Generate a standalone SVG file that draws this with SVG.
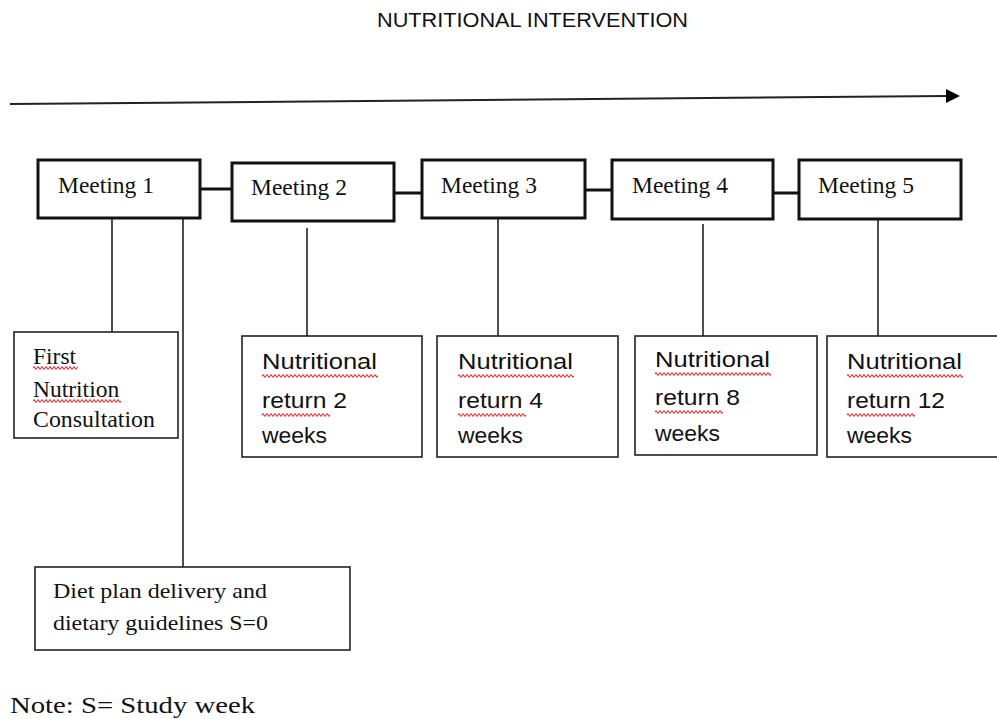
<svg xmlns="http://www.w3.org/2000/svg" width="997" height="719" viewBox="0 0 997 719">
<defs>
<style>
.bg{fill:#fff}
.mt{fill:#fff;stroke:#111;stroke-width:3}
.sb{fill:#fff;stroke:#222;stroke-width:1.6}
.hc{stroke:#111;stroke-width:3;fill:none}
.vc{stroke:#222;stroke-width:1.6;fill:none}
.serif{font-family:"Liberation Serif","Times New Roman",serif;fill:#111}
.sans{font-family:"Liberation Sans",Arial,sans-serif;fill:#111}
.ms{font-size:23.5px}
.ns{font-size:21.5px}
</style>
<pattern id="sq" patternUnits="userSpaceOnUse" width="4" height="4">
<path d="M0 2 L1 0.8 L3 3.2 L4 2" stroke="#e8434a" stroke-width="1.2" fill="none"/>
</pattern>
</defs>
<rect class="bg" x="0" y="0" width="997" height="719"/>

<text id="title" class="sans" x="377" y="27" font-size="19.5" textLength="311" lengthAdjust="spacingAndGlyphs" fill="#2a2a2a">NUTRITIONAL INTERVENTION</text>

<g id="timeline">
<line x1="10" y1="104" x2="947" y2="96" stroke="#222" stroke-width="2"/>
<polygon points="946,89 960,96 946,103" fill="#000"/>
</g>

<g id="connectors">
<line class="hc" x1="200" y1="189" x2="232" y2="189"/>
<line class="hc" x1="394" y1="193" x2="422" y2="193"/>
<line class="hc" x1="585" y1="190" x2="612" y2="190"/>
<line class="hc" x1="773" y1="193" x2="799" y2="193"/>
<line class="vc" x1="112" y1="219" x2="112" y2="332"/>
<line class="vc" x1="183" y1="219" x2="183" y2="567"/>
<line class="vc" x1="307" y1="228" x2="307" y2="336"/>
<line class="vc" x1="498" y1="219" x2="498" y2="336"/>
<line class="vc" x1="703" y1="224" x2="703" y2="336"/>
<line class="vc" x1="878" y1="219" x2="878" y2="336"/>
</g>

<g id="meeting1">
<rect class="mt" x="38" y="160" width="162" height="58"/>
<text class="serif ms" x="58" y="193">Meeting 1</text>
</g>
<g id="meeting2">
<rect class="mt" x="232" y="163" width="162" height="58"/>
<text class="serif ms" x="251" y="195">Meeting 2</text>
</g>
<g id="meeting3">
<rect class="mt" x="422" y="160" width="163" height="58"/>
<text class="serif ms" x="441" y="193">Meeting 3</text>
</g>
<g id="meeting4">
<rect class="mt" x="612" y="160" width="161" height="59"/>
<text class="serif ms" x="632" y="193">Meeting 4</text>
</g>
<g id="meeting5">
<rect class="mt" x="799" y="160" width="162" height="59"/>
<text class="serif ms" x="818" y="193">Meeting 5</text>
</g>

<g id="first-consultation">
<rect class="sb" x="14" y="332" width="164" height="106"/>
<text class="serif ms" x="33" y="364">First</text>
<text class="serif ms" x="33" y="397">Nutrition</text>
<text class="serif ms" x="33" y="427" textLength="122" lengthAdjust="spacingAndGlyphs">Consultation</text>
<rect transform="translate(33,366)" width="45" height="4" fill="url(#sq)"/>
<rect transform="translate(33,399)" width="88" height="4" fill="url(#sq)"/>
</g>

<g id="return2">
<rect class="sb" x="242" y="336" width="180" height="121"/>
<text class="sans ns" x="262" y="369" textLength="115" lengthAdjust="spacingAndGlyphs">Nutritional</text>
<text class="sans ns" x="262" y="408" textLength="85" lengthAdjust="spacingAndGlyphs">return 2</text>
<text class="sans ns" x="262" y="443" textLength="65" lengthAdjust="spacingAndGlyphs">weeks</text>
<rect transform="translate(262,374)" width="116" height="4" fill="url(#sq)"/>
<rect transform="translate(262,413)" width="68" height="4" fill="url(#sq)"/>
</g>

<g id="return4">
<rect class="sb" x="437" y="336" width="181" height="121"/>
<text class="sans ns" x="458" y="369" textLength="115" lengthAdjust="spacingAndGlyphs">Nutritional</text>
<text class="sans ns" x="458" y="408" textLength="85" lengthAdjust="spacingAndGlyphs">return 4</text>
<text class="sans ns" x="458" y="443" textLength="65" lengthAdjust="spacingAndGlyphs">weeks</text>
<rect transform="translate(458,374)" width="116" height="4" fill="url(#sq)"/>
<rect transform="translate(458,413)" width="68" height="4" fill="url(#sq)"/>
</g>

<g id="return8">
<rect class="sb" x="635" y="336" width="182" height="119"/>
<text class="sans ns" x="655" y="367" textLength="115" lengthAdjust="spacingAndGlyphs">Nutritional</text>
<text class="sans ns" x="655" y="405" textLength="85" lengthAdjust="spacingAndGlyphs">return 8</text>
<text class="sans ns" x="655" y="441" textLength="65" lengthAdjust="spacingAndGlyphs">weeks</text>
<rect transform="translate(655,372)" width="116" height="4" fill="url(#sq)"/>
<rect transform="translate(655,410)" width="68" height="4" fill="url(#sq)"/>
</g>

<g id="return12">
<rect class="sb" x="827" y="336" width="175" height="121"/>
<text class="sans ns" x="847" y="369" textLength="115" lengthAdjust="spacingAndGlyphs">Nutritional</text>
<text class="sans ns" x="847" y="408" textLength="98" lengthAdjust="spacingAndGlyphs">return 12</text>
<text class="sans ns" x="847" y="443" textLength="65" lengthAdjust="spacingAndGlyphs">weeks</text>
<rect transform="translate(847,374)" width="116" height="4" fill="url(#sq)"/>
<rect transform="translate(847,413)" width="68" height="4" fill="url(#sq)"/>
</g>

<g id="diet-plan">
<rect class="sb" x="35" y="567" width="315" height="83"/>
<text class="serif" font-size="22" x="53" y="598" textLength="214" lengthAdjust="spacingAndGlyphs">Diet plan delivery and</text>
<text class="serif" font-size="22" x="53" y="630" textLength="215" lengthAdjust="spacingAndGlyphs">dietary guidelines S=0</text>
</g>

<text id="note" class="serif" font-size="24" x="10" y="713" textLength="245" lengthAdjust="spacingAndGlyphs">Note: S= Study week</text>
</svg>
